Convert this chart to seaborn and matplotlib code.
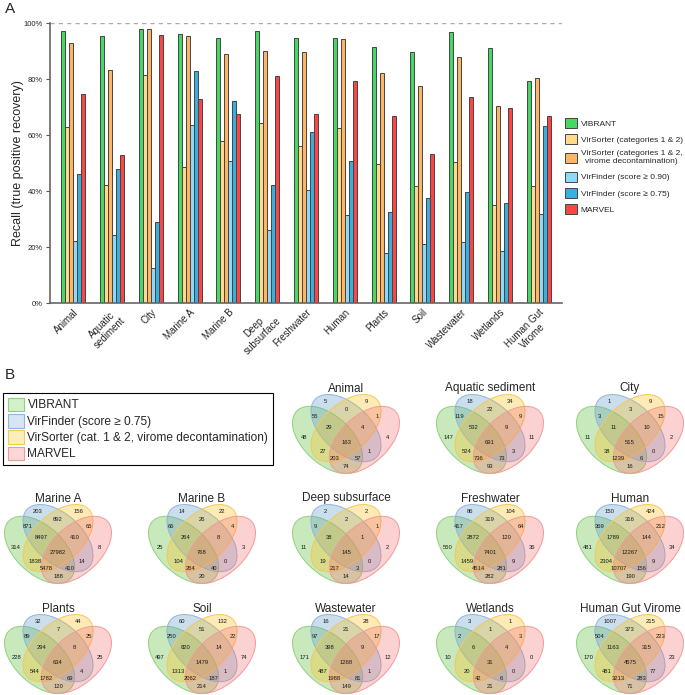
import matplotlib
matplotlib.use("Agg")
import matplotlib.pyplot as plt
from matplotlib.patches import Ellipse, Patch
import seaborn as sns
import pandas as pd

sns.set_style("white")
plt.rcParams['font.family'] = ['Liberation Sans', 'DejaVu Sans']

# ---------------- panel A data ----------------
environments = ['Animal', 'Aquatic sediment', 'City', 'Marine A', 'Marine B', 'Deep subsurface',
                'Freshwater', 'Human', 'Plants', 'Soil', 'Wastewater', 'Wetlands', 'Human Gut Virome']
tick_labels = ['Animal', 'Aquatic\nsediment', 'City', 'Marine A', 'Marine B', 'Deep\nsubsurface',
               'Freshwater', 'Human', 'Plants', 'Soil', 'Wastewater', 'Wetlands', 'Human Gut\nVirome']
tools = ['VIBRANT', 'VirSorter (categories 1 & 2)',
         'VirSorter (categories 1 & 2,\nvirome decontamination)',
         'VirFinder (score ≥ 0.90)', 'VirFinder (score ≥ 0.75)', 'MARVEL']
bar_colors = ['#47d764', '#ffd98c', '#ffb566', '#8ed8f8', '#3aaedc', '#ff4444']

vibrant = [97.0, 95.2, 97.8, 96.1, 94.8, 97.0, 94.6, 94.5, 91.3, 89.7, 96.7, 90.9, 79.4]
virsorter_12 = [63.0, 42.2, 81.4, 48.7, 57.7, 64.4, 56.1, 62.4, 49.8, 41.8, 50.4, 35.0, 41.9]
virsorter_decon = [92.8, 83.3, 97.8, 95.4, 89.1, 90.1, 89.6, 94.2, 82.0, 77.4, 87.7, 70.5, 80.2]
virfinder_90 = [22.1, 24.3, 12.4, 63.6, 50.8, 26.1, 40.3, 31.5, 17.8, 21.0, 21.7, 18.5, 31.8]
virfinder_75 = [46.2, 47.8, 29.1, 82.8, 72.3, 42.3, 61.1, 50.7, 32.4, 37.5, 39.7, 35.6, 63.1]
marvel = [74.8, 53.0, 95.7, 72.7, 67.4, 81.2, 67.6, 79.4, 66.7, 53.3, 73.5, 69.8, 66.7]

# ---------------- panel B data ----------------
# region order: A, B, C, D, AB, AC, AD, BC, BD, CD, ABC, ABD, ACD, BCD, ABCD
# A = VIBRANT, B = VirFinder (>=0.75), C = VirSorter (decontam.), D = MARVEL
venn_animal = [48, 5, 9, 4, 55, 27, 74, 0, 1, 1, 29, 57, 203, 4, 163]
venn_aquatic = [147, 18, 34, 11, 119, 524, 93, 22, 3, 9, 532, 73, 736, 9, 691]
venn_city = [11, 1, 9, 2, 3, 38, 16, 3, 0, 15, 11, 6, 1239, 10, 515]
venn_marine_a = [314, 203, 156, 8, 871, 1838, 188, 892, 14, 65, 8497, 410, 5478, 410, 27982]
venn_marine_b = [25, 14, 22, 3, 66, 104, 20, 26, 0, 4, 264, 40, 264, 8, 768]
venn_deep = [11, 2, 2, 2, 9, 19, 14, 2, 0, 1, 38, 3, 217, 1, 145]
venn_freshwater = [550, 86, 104, 36, 417, 1459, 282, 319, 9, 64, 2872, 281, 4514, 120, 7401]
venn_human = [481, 150, 424, 34, 369, 2304, 190, 316, 9, 212, 1789, 156, 10707, 144, 12267]
venn_plants = [228, 32, 44, 25, 89, 544, 120, 7, 4, 25, 294, 69, 1782, 8, 634]
venn_soil = [497, 60, 132, 74, 250, 1313, 214, 51, 1, 22, 820, 187, 2062, 14, 1479]
venn_wastewater = [171, 16, 28, 12, 97, 487, 149, 21, 1, 17, 398, 81, 1988, 9, 1268]
venn_wetlands = [10, 3, 1, 0, 2, 20, 21, 1, 0, 3, 6, 6, 42, 4, 31]
venn_gut = [170, 1007, 215, 23, 504, 481, 71, 373, 77, 223, 1163, 283, 3213, 315, 4575]

venn_sets = ['VIBRANT', 'VirFinder (score ≥ 0.75)',
             'VirSorter (cat. 1 & 2, virome decontamination)', 'MARVEL']

fig = plt.figure(figsize=(6.85, 6.95), dpi=100)
W, H = 685.0, 695.0

# ---------------- panel A ----------------
ax = fig.add_axes([50 / W, 1 - 303 / H, 512 / W, 280 / H])
rows = []
for name, vals in zip(tools, [vibrant, virsorter_12, virsorter_decon, virfinder_90, virfinder_75, marvel]):
    for env, v in zip(environments, vals):
        rows.append({'environment': env, 'tool': name, 'recall': v})
df = pd.DataFrame(rows)

sns.barplot(data=df, x='environment', y='recall', hue='tool', order=environments, hue_order=tools,
            palette=bar_colors, saturation=1, width=0.62, errorbar=None,
            edgecolor='#444444', linewidth=0.7, ax=ax)

ax.axhline(100, color='#aaaaaa', lw=1, ls=(0, (3, 3)), zorder=0)
ax.set_xlim(-0.6, 12.6)
ax.set_ylim(0, 100)
ax.set_yticks([0, 20, 40, 60, 80, 100])
ax.set_yticklabels([f'{v}%' for v in [0, 20, 40, 60, 80, 100]], fontsize=5.5)
ax.set_xticks(range(len(environments)))
ax.set_xticklabels(tick_labels, rotation=45, ha='right', rotation_mode='anchor', fontsize=7,
                   multialignment='center')
ax.tick_params(axis='x', length=0, pad=3)
ax.tick_params(axis='y', length=3, width=0.8, color='#555555', pad=2, left=True)
for s in ['top', 'right']:
    ax.spines[s].set_visible(False)
for s in ['left', 'bottom']:
    ax.spines[s].set_color('#666666')
    ax.spines[s].set_linewidth(1.2)
ax.set_xlabel('')
ax.set_ylabel('Recall (true positive recovery)', fontsize=9)
ax.yaxis.set_label_coords(-0.05, 0.5)

handles, labels = ax.get_legend_handles_labels()
leg = ax.legend(handles, labels, loc='upper left', bbox_to_anchor=(1.005, 0.66), frameon=False,
                fontsize=6, handlelength=1.45, handleheight=1.45, labelspacing=0.75,
                handletextpad=0.5, borderpad=0, borderaxespad=0)
for t in leg.get_texts():
    t.set_multialignment('center')

fig.text(5 / W, 1 - 2 / H, 'A', fontsize=11, va='top', ha='left')

# ---------------- panel B ----------------
fig.text(5 / W, 1 - 368 / H, 'B', fontsize=11, va='top', ha='left')

fill_colors = ['#59bd34', '#629bce', '#fac01d', '#f67575']
edge_colors = ['#8fd17a', '#8fb4dd', '#f5c85a', '#f29a9a']
legend_fill = ['#d3f0c8', '#d6e5f3', '#fdecbc', '#fdd7d7']

venn_handles = [Patch(facecolor=f, edgecolor=e, linewidth=0.8, label=l)
                for f, e, l in zip(legend_fill, edge_colors, venn_sets)]
legb = fig.legend(handles=venn_handles, loc='upper left', bbox_to_anchor=(3 / W, 1 - 393 / H),
                  frameon=True, fancybox=False, edgecolor='black', framealpha=1, fontsize=8.6,
                  handlelength=1.35, handleheight=1.35, labelspacing=0.22, borderpad=0.4,
                  handletextpad=0.3, borderaxespad=0)
legb.get_frame().set_linewidth(0.8)

# ellipse geometry (VennDiagram-style quad layout): centre, angle
ellipses = [((0.35, 0.47), -45), ((0.50, 0.57), -45), ((0.50, 0.57), 45), ((0.65, 0.47), 45)]
label_pos = [(0.16, 0.49), (0.335, 0.795), (0.665, 0.795), (0.84, 0.49),
             (0.25, 0.665), (0.31, 0.372), (0.50, 0.243), (0.50, 0.726), (0.69, 0.372),
             (0.75, 0.665), (0.365, 0.571), (0.595, 0.312), (0.405, 0.312), (0.635, 0.571),
             (0.50, 0.45)]

venn_layout = [
    ('Animal', venn_animal, 0, 2), ('Aquatic sediment', venn_aquatic, 0, 3), ('City', venn_city, 0, 4),
    ('Marine A', venn_marine_a, 1, 0), ('Marine B', venn_marine_b, 1, 1),
    ('Deep subsurface', venn_deep, 1, 2), ('Freshwater', venn_freshwater, 1, 3),
    ('Human', venn_human, 1, 4),
    ('Plants', venn_plants, 2, 0), ('Soil', venn_soil, 2, 1), ('Wastewater', venn_wastewater, 2, 2),
    ('Wetlands', venn_wetlands, 2, 3), ('Human Gut Virome', venn_gut, 2, 4),
]
col_x = [58, 202, 346, 490, 630]
row_y = [434, 544, 654]
vw, vh = 107, 79

for title, counts, r, c in venn_layout:
    cx, cy = col_x[c], row_y[r]
    vax = fig.add_axes([(cx - vw / 2) / W, 1 - (cy + vh / 2) / H, vw / W, vh / H])
    for (xy, ang), fc, ec in zip(ellipses, fill_colors, edge_colors):
        vax.add_patch(Ellipse(xy, 0.70, 0.40, angle=ang, facecolor=fc, alpha=0.33,
                              edgecolor='none', clip_on=False))
        vax.add_patch(Ellipse(xy, 0.70, 0.40, angle=ang, facecolor='none', edgecolor=ec,
                              lw=0.7, clip_on=False))
    for (px, py), n in zip(label_pos, counts):
        vax.text(px, py, str(n), ha='center', va='center', fontsize=4.2, color='#1a1a1a')
    vax.set_xlim(0.065, 0.935)
    vax.set_ylim(0.185, 0.855)
    vax.axis('off')
    vax.text(0.5, 1.0, title, transform=vax.transAxes, ha='center', va='bottom', fontsize=8.5)

fig.savefig('out.png', dpi=100)
